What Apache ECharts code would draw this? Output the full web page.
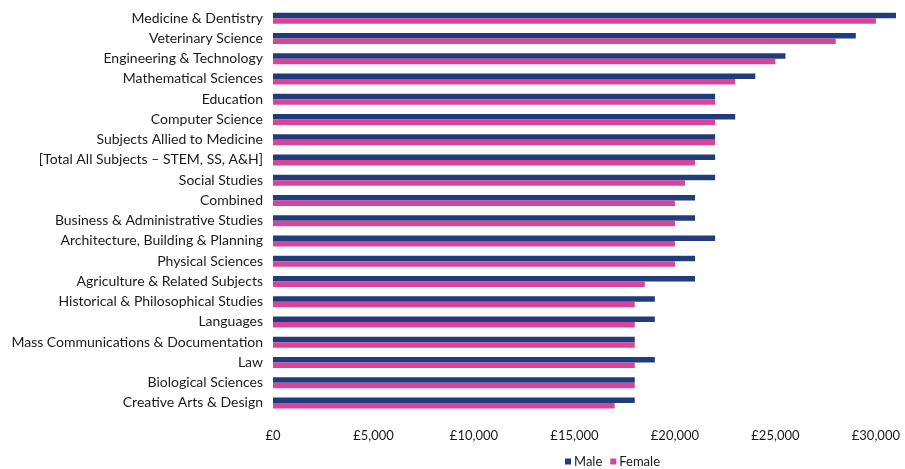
<!DOCTYPE html>
<html>
<head>
<meta charset="utf-8" />
<title>Salary by subject</title>
<style>
html, body { margin: 0; padding: 0; background: #fff; }
#chart { width: 905px; height: 469px; }
</style>
</head>
<body>
<div id="chart"></div>
<script src="https://cdn.jsdelivr.net/npm/echarts@6/dist/echarts.min.js"></script>
<script>
// subjects, top to bottom
var subjects = [
  'Medicine & Dentistry',
  'Veterinary Science',
  'Engineering & Technology',
  'Mathematical Sciences',
  'Education',
  'Computer Science',
  'Subjects Allied to Medicine',
  '[Total All Subjects \u2013 STEM, SS, A&H]',
  'Social Studies',
  'Combined',
  'Business & Administrative Studies',
  'Architecture, Building & Planning',
  'Physical Sciences',
  'Agriculture & Related Subjects',
  'Historical & Philosophical Studies',
  'Languages',
  'Mass Communications & Documentation',
  'Law',
  'Biological Sciences',
  'Creative Arts & Design'
];
var male = [31000, 29000, 25500, 24000, 22000, 23000, 22000, 22000, 22000, 21000,
            21000, 22000, 21000, 21000, 19000, 19000, 18000, 19000, 18000, 18000];
var female = [30000, 28000, 25000, 23000, 22000, 22000, 22000, 21000, 20500, 20000,
              20000, 20000, 20000, 18500, 18000, 18000, 18000, 18000, 18000, 17000];

var chart = echarts.init(document.getElementById('chart'));
var font = 'Lato, "Open Sans", sans-serif';

var option = {
  backgroundColor: '#fff',
  animation: false,
  textStyle: { fontFamily: font },
  legend: {
    data: ['Male', 'Female'],
    left: 560,
    top: 450,
    itemWidth: 6,
    itemHeight: 6,
    itemGap: 8,
    icon: 'rect',
    textStyle: { fontSize: 13, color: '#1a1a1a', padding: [0, 0, 0, -2] }
  },
  grid: { left: 273, right: 5, top: 8, bottom: 56, containLabel: false },
  xAxis: {
    type: 'value',
    min: 0,
    max: 31200,
    interval: 5000,
    axisLine: { show: false },
    axisTick: { show: false },
    splitLine: { show: false },
    axisLabel: {
      showMaxLabel: false,
      margin: 16,
      fontSize: 13,
      color: '#1a1a1a',
      formatter: function (v) {
        if (v % 5000 !== 0) return '';
        return '\u00a3' + v.toLocaleString('en-GB');
      }
    }
  },
  yAxis: {
    type: 'category',
    inverse: true,
    data: subjects,
    axisLine: { show: false },
    axisTick: { show: false },
    axisLabel: { fontSize: 14, color: '#1a1a1a', margin: 10 }
  },
  series: [
    {
      name: 'Male',
      type: 'bar',
      data: male,
      barWidth: 5.5,
      barGap: '0%',
      itemStyle: { color: '#203c7c' }
    },
    {
      name: 'Female',
      type: 'bar',
      data: female,
      barWidth: 5.5,
      itemStyle: { color: '#d8449c' }
    }
  ]
};
chart.setOption(option);
</script>
</body>
</html>
